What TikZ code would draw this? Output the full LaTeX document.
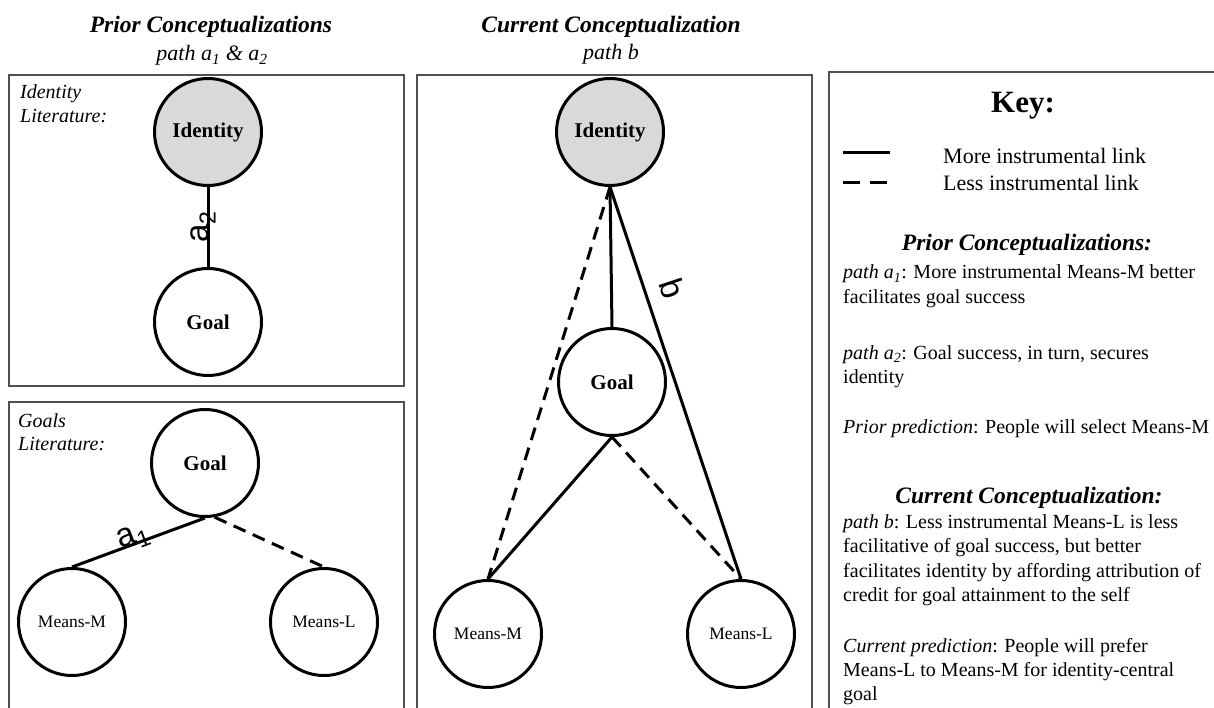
\documentclass[tikz,border=0pt]{standalone}
\usepackage{fontspec}
\setmainfont{Liberation Serif}
\newfontfamily\labfont{Liberation Sans}
\definecolor{idgray}{HTML}{D9D9D9}
\definecolor{boxgray}{HTML}{505050}
\begin{document}
\begin{tikzpicture}[x=1pt,y=-1pt,
  box/.style={draw=boxgray, line width=1.4pt},
  circ/.style={circle, draw=black, line width=3pt, minimum size=107pt, inner sep=0pt},
  idc/.style={circ, fill=idgray, font=\fontsize{21}{24}\selectfont\bfseries},
  goalc/.style={circ, fill=white, font=\fontsize{21}{24}\selectfont\bfseries},
  meanc/.style={circ, fill=white, font=\fontsize{17.5}{20}\selectfont},
  link/.style={line width=3pt},
  weak/.style={line width=3pt, dash pattern=on 13pt off 8pt},
  pathlab/.style={font=\fontsize{33}{36}\labfont, inner sep=0pt},
  title/.style={anchor=base, font=\fontsize{23.5}{28}\selectfont\bfseries\itshape},
  subtitle/.style={anchor=base, font=\fontsize{22}{26}\selectfont\itshape},
  lit/.style={anchor=base west, inner sep=0pt, font=\fontsize{20}{24}\selectfont\itshape},
  keytxt/.style={anchor=base west, inner sep=0pt, font=\fontsize{20}{24}\selectfont},
  legtxt/.style={anchor=base west, inner sep=0pt, font=\fontsize{22}{26}\selectfont},
]
\useasboundingbox (0,0) rectangle (1214,708);
\fill[white] (0,0) rectangle (1214,708);

% titles
\node[title] (t1) at (211,33) {Prior Conceptualizations};
\node[subtitle] (t1b) at (212,61) {path a\textsubscript{1} \& a\textsubscript{2}};
\node[title] (t2) at (611,33) {Current Conceptualization};
\node[subtitle] (t2b) at (611,60) {path b};

% boxes
\draw[box] (9,75) rectangle (404,386);
\draw[box] (9,402) rectangle (404,730);
\draw[box] (417,75) rectangle (812,730);
\draw[box] (829,72) rectangle (1240,730);

% box 1: identity literature
\node[lit] (il1) at (20,99) {Identity};
\node[lit] (il2) at (20,123) {Literature:};
\node[idc] (id1) at (208,132) {Identity};
\node[goalc] (g1) at (208,322) {Goal};
\draw[link] (g1.north) -- node[sloped, pos=0.5, anchor=base, pathlab] (la2) {a\textsubscript{2}} (id1.south);

% box 2: goals literature
\node[lit] (gl1) at (18,427) {Goals};
\node[lit] (gl2) at (18,450) {Literature:};
\node[goalc] (g2) at (205,463) {Goal};
\node[meanc] (mm2) at (72,622) {Means-M};
\node[meanc] (ml2) at (324,622) {Means-L};
\draw[link] (mm2.north) -- node[sloped, pos=0.48, anchor=base, pathlab, yshift=1pt] (la1) {a\textsubscript{1}} (g2.south);
\draw[weak] (g2.-80) -- (ml2.north);

% middle: current conceptualization
\node[idc] (id3) at (610,132) {Identity};
\node[goalc] (g3) at (612,382) {Goal};
\node[meanc] (mm3) at (488,634) {Means-M};
\node[meanc] (ml3) at (741,634) {Means-L};
\draw[link] (id3.south) -- (g3.north);
\draw[weak] (id3.south) -- (mm3.north);
\draw[link] (id3.south) -- node[sloped, pos=0.28, anchor=south, font=\fontsize{33}{36}\labfont, inner xsep=0pt, inner ysep=14pt] (lb) {b} (ml3.north);
\draw[link] (g3.south) -- (mm3.north);
\draw[weak] (g3.south) -- (ml3.north);

% key
\node[anchor=base, font=\fontsize{31}{34}\selectfont\bfseries] (key) at (1023,113) {Key:};
\coordinate (s1) at (843,153);
\coordinate (s2) at (890,153);
\coordinate (d1) at (843,183);
\coordinate (d2) at (890,183);
\draw[link] (s1) -- (s2);
\draw[line width=3pt, dash pattern=on 17pt off 10pt] (d1) -- (d2);
\node[legtxt] (lg1) at (943,164) {More instrumental link};
\node[legtxt] (lg2) at (943,191) {Less instrumental link};

\node[title] (kh1) at (1027,251) {Prior Conceptualizations:};
\node[keytxt] (k1) at (843,279) {\textit{path a\textsubscript{1}}: More instrumental Means-M better};
\node[keytxt] (k2) at (843,303) {facilitates goal success};
\node[keytxt] (k3) at (843,359) {\textit{path a\textsubscript{2}}: Goal success, in turn, secures};
\node[keytxt] (k4) at (843,383) {identity};
\node[keytxt] (k5) at (843,433) {\textit{Prior prediction}: People will select Means-M};

\node[title] (kh2) at (1029,503) {Current Conceptualization:};
\node[keytxt] (k6) at (843,528) {\textit{path b}: Less instrumental Means-L is less};
\node[keytxt] (k7) at (843,552) {facilitative of goal success, but better};
\node[keytxt] (k8) at (843,577) {facilitates identity by affording attribution of};
\node[keytxt] (k9) at (843,601) {credit for goal attainment to the self};
\node[keytxt] (k10) at (843,652) {\textit{Current prediction}: People will prefer};
\node[keytxt] (k11) at (843,676) {Means-L to Means-M for identity-central};
\node[keytxt] (k12) at (843,700) {goal};
\end{tikzpicture}
\end{document}
